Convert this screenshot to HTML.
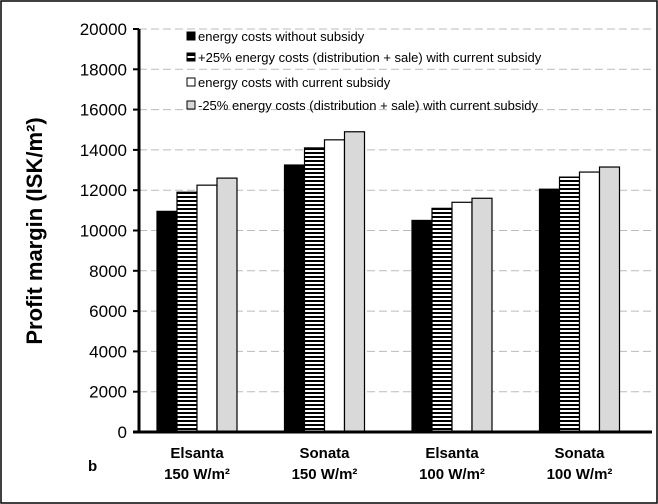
<!DOCTYPE html>
<html><head><meta charset="utf-8"><style>
body{margin:0;background:#fff}
svg{display:block;font-family:"Liberation Sans",Arial,sans-serif}
</style></head><body>
<svg id="c" width="658" height="504">
<defs><pattern id="hs" width="4" height="4" patternUnits="userSpaceOnUse"><rect width="4" height="4" fill="#fff"/><rect width="4" height="2" fill="#000"/></pattern></defs>
<rect x="1" y="1" width="656" height="502" fill="#fff" stroke="#000" stroke-width="1.5"/>
<g id="grid"></g><g id="bars"></g><g id="axes"></g>
<text transform="translate(42,231) rotate(-90)" text-anchor="middle" font-size="22" font-weight="bold">Profit margin (ISK/m²)</text>
<text x="88" y="471" font-size="15" font-weight="bold">b</text>
<g id="legend"></g>
</svg>
<script>
const categories=[["Elsanta","150 W/m²"],["Sonata","150 W/m²"],["Elsanta","100 W/m²"],["Sonata","100 W/m²"]];
const seriesNames=["energy costs without subsidy","+25% energy costs (distribution + sale) with current subsidy","energy costs with current subsidy","-25% energy costs (distribution + sale) with current subsidy"];
const noSubsidy=[10950,13250,10500,12050];
const plus25=[11900,14100,11100,12650];
const currentSubsidy=[12250,14500,11400,12900];
const minus25=[12600,14900,11600,13150];
const yTicks=[0,2000,4000,6000,8000,10000,12000,14000,16000,18000,20000];
const fills=["#000","url(#hs)","#fff","#d9d9d9"];
const series=[noSubsidy,plus25,currentSubsidy,minus25];
const NS="http://www.w3.org/2000/svg";
const x0=139,x1=652,y0=432,y1=29,yMax=20000;
const gw=127.5,bw=20;
function yS(v){return y0-(v/yMax)*(y0-y1);}
function gc(i){return 197+gw*i;}
function mk(t,a,p){const e=document.createElementNS(NS,t);for(const k in a)e.setAttribute(k,a[k]);p.appendChild(e);return e;}
const grid=document.getElementById('grid'),bars=document.getElementById('bars'),axes=document.getElementById('axes'),leg=document.getElementById('legend');
yTicks.forEach(v=>{
 if(v>0){const g=mk('line',{x1:x0,x2:x1,y1:yS(v),y2:yS(v),stroke:'#bbb','stroke-dasharray':'8,4'},grid);
 
 }
 const t=mk('line',{x1:x0-6,x2:x0,y1:yS(v),y2:yS(v),stroke:'#000','stroke-width':2},axes);
 
 
 const l=mk('text',{x:x0-12,y:yS(v)+6,'text-anchor':'end','font-size':17},axes);l.textContent=v;
 
 
});
categories.forEach((c,i)=>{
 series.forEach((s,j)=>{
  const bx=gc(i)-2*bw+j*bw;
  const r=mk('rect',{x:bx,y:yS(s[i]),width:bw,height:y0-yS(s[i]),fill:fills[j],stroke:'#000','stroke-width':1.2},bars);
  
  
 });
 const t1=mk('text',{x:gc(i),y:458,'text-anchor':'middle','font-size':15,'font-weight':'bold'},axes);t1.textContent=c[0];
 
 
 const t2=mk('text',{x:gc(i),y:479,'text-anchor':'middle','font-size':15,'font-weight':'bold'},axes);t2.textContent=c[1];
 
 
});
const ya=mk('line',{x1:x0,x2:x0,y1:y1,y2:y0,stroke:'#000','stroke-width':3},axes);


const xa=mk('line',{x1:x0-6,x2:x1,y1:y0,y2:y0,stroke:'#000','stroke-width':3},axes);


const ly=[41,62,87,110];
seriesNames.forEach((n,j)=>{
 const r=mk('rect',{x:187,y:ly[j]-9,width:8,height:8,fill:j==1?'#fff':fills[j],stroke:'#000','stroke-width':1},leg);
 
 
 if(j==1){const m=mk('rect',{x:187,y:ly[j]-9,width:8,height:3,fill:'#000'},leg);
 const m2=mk('rect',{x:187,y:ly[j]-4,width:8,height:3,fill:'#000'},leg);}
 const t=mk('text',{x:198,y:ly[j],'font-size':13},leg);t.textContent=n;
 
 
});
</script>
</body></html>
